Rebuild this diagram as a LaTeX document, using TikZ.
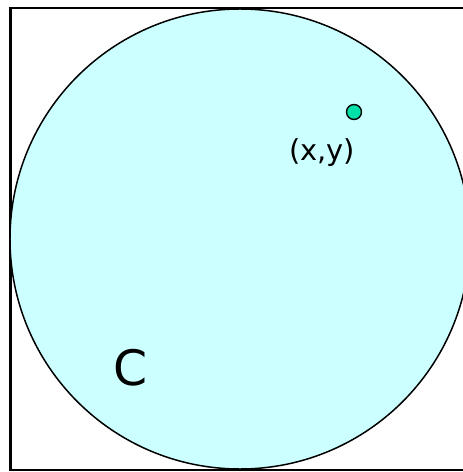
\documentclass[tikz,border=0pt]{standalone}
\usepackage{fontspec}
\setmainfont{DejaVu Sans}
\usetikzlibrary{positioning}
\definecolor{cReg}{HTML}{CCFFFF}
\definecolor{cPt}{HTML}{00E0A8}
\tikzset{
    frame/.style  ={draw, line width=2.4pt},
    region/.style ={circle, draw, line width=1.5pt, fill=cReg, inner sep=0pt,
                    minimum size=460bp},
    pt/.style     ={circle, draw, line width=1.4pt, fill=cPt, inner sep=0pt,
                    minimum size=15bp},
    lbl/.style    ={inner sep=0pt, font=\fontsize{29}{32}\selectfont},
    big/.style    ={inner sep=0pt, font=\fontsize{49}{52}\selectfont},
}

\begin{document}
\begin{tikzpicture}[x=1bp, y=-1bp]
\useasboundingbox (0,0) rectangle (463,472);
\clip (0,0) rectangle (463,472);

% ===================== Cuadrado y circulo =====================
\draw[frame] (10.5,8) rectangle (470,470);
\node[region] (reg) at (240,239) {};

% ===================== Punto (x,y) =====================
\node[pt] (p) at (354,112) {};
\node[lbl] (plbl) at (322,153) {(x,y)};

% ===================== Etiqueta del circulo =====================
\node[big] (c) at (131,368) {C};

\end{tikzpicture}
\end{document}
